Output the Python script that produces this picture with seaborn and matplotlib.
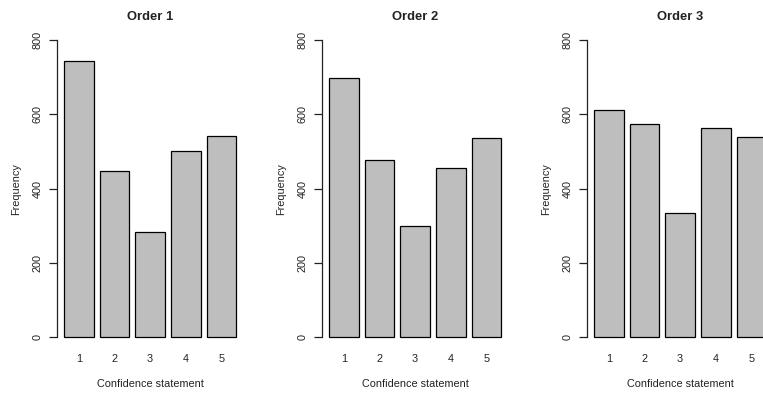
import matplotlib
matplotlib.use("Agg")
import matplotlib.pyplot as plt
import seaborn as sns
import pandas as pd

sns.set_theme(style="white")
plt.rcParams["font.family"] = ["Liberation Sans", "DejaVu Sans"]

# Counts of each confidence statement, per presentation order
statements = ["1", "2", "3", "4", "5"]
order1 = [743, 447, 284, 502, 541]
order2 = [698, 477, 300, 455, 535]
order3 = [612, 573, 335, 562, 540]
titles = ["Order 1", "Order 2", "Order 3"]
y_ticks = [0, 200, 400, 600, 800]

W, H = 763, 394
fig = plt.figure(figsize=(W / 100, H / 100), dpi=100)

panel_left = [57.1, 322.1, 587.1]
panel_w = 186.1
panel_top, panel_bottom = 28.1, 349.2

for left, counts, title in zip(panel_left, [order1, order2, order3], titles):
    ax = fig.add_axes([left / W, 1 - panel_bottom / H, panel_w / W,
                       (panel_bottom - panel_top) / H])
    df = pd.DataFrame({"statement": statements, "count": counts})
    sns.barplot(data=df, x="statement", y="count", ax=ax, color="#BEBEBE",
                saturation=1, width=1 / 1.2, edgecolor="black",
                linewidth=0.9, errorbar=None)
    ax.set_xlim(-0.61, 4.61)
    ax.set_ylim(-32, 832)
    ax.set_facecolor("none")
    for s in ["top", "right", "bottom"]:
        ax.spines[s].set_visible(False)
    ax.spines["left"].set_visible(True)
    ax.spines["left"].set_color("#222222")
    ax.spines["left"].set_linewidth(0.9)
    ax.spines["left"].set_bounds(0, 800)
    ax.set_yticks(y_ticks)
    ax.set_yticklabels([str(v) for v in y_ticks], rotation=90, va="center",
                       fontsize=7.8, color="#222222")
    ax.tick_params(axis="y", left=True, length=6, width=0.9,
                   color="#222222", pad=4.5)
    ax.tick_params(axis="x", bottom=False, length=0, labelsize=7.8,
                   labelcolor="#222222", pad=3.5)
    ax.set_xlabel("Confidence statement", fontsize=7.8, color="#222222",
                  labelpad=10.5)
    ax.set_ylabel("Frequency", fontsize=7.8, color="#222222", labelpad=8)
    ax.set_title(title, fontsize=9.4, fontweight="bold", color="#222222",
                 pad=6)
    ax.grid(False)

fig.savefig("out.png", dpi=100)
